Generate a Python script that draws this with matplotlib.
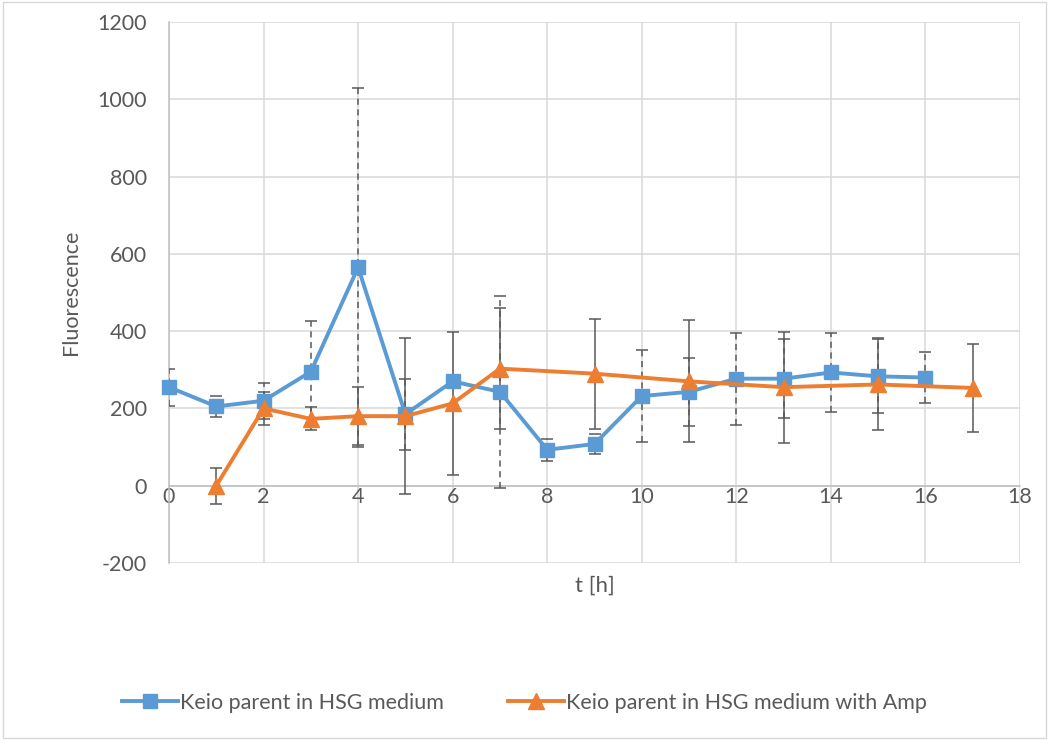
import matplotlib.pyplot as plt
from matplotlib.patches import Rectangle

plt.rcParams['font.family'] = ['Lato', 'DejaVu Sans']
plt.rcParams['axes.unicode_minus'] = False

# Keio parent in HSG medium
t_plain = [0, 1, 2, 3, 4, 5, 6, 7, 8, 9, 10, 11, 12, 13, 14, 15, 16]
f_plain = [255, 205, 220, 295, 565, 185, 270, 243, 93, 108, 232, 243, 277, 277, 293, 283, 280]
err_plain = [48, 28, 47, 132, 465, 92, 10, 248, 29, 26, 119, 88, 119, 103, 101, 96, 67]

# Keio parent in HSG medium with Amp
t_amp = [1, 2, 3, 4, 5, 6, 7, 9, 11, 13, 15, 17]
f_amp = [0, 200, 173, 180, 180, 213, 303, 290, 270, 255, 262, 253]
err_amp = [47, 43, 30, 75, 202, 185, 157, 142, 158, 144, 119, 113]

blue = '#5B9BD5'
orange = '#ED7D31'
grey_txt = '#595959'

fig = plt.figure(figsize=(10.49, 7.40), dpi=100)
ax = fig.add_axes([169 / 1049, 1 - 563 / 740, (1020 - 169) / 1049, (563 - 22) / 740])

# error bars: dashed for the plain medium, solid for the Amp series
eb1 = ax.errorbar(t_plain, f_plain, yerr=err_plain, fmt='none', ecolor=grey_txt,
                  elinewidth=1.1, capsize=4, capthick=1.1, zorder=3)
eb1[2][0].set_linestyle((0, (4, 3)))
eb2 = ax.errorbar(t_amp, f_amp, yerr=err_amp, fmt='none', ecolor=grey_txt,
                  elinewidth=1.1, capsize=4, capthick=1.1, zorder=3)

ax.plot(t_plain, f_plain, color=blue, lw=2.8, marker='s', markersize=10,
        label='Keio parent in HSG medium', zorder=4, clip_on=False)
ax.plot(t_amp, f_amp, color=orange, lw=2.8, marker='^', markersize=11,
        label='Keio parent in HSG medium with Amp', zorder=5, clip_on=False)

ax.set_xlim(0, 18)
ax.set_ylim(-200, 1200)
ax.set_xticks(range(0, 19, 2))
ax.set_yticks(range(-200, 1201, 200))
ax.grid(True, color='#D9D9D9', lw=1.1)
ax.set_axisbelow(True)
ax.tick_params(length=0, labelsize=15.5, colors=grey_txt)
ax.tick_params(axis='y', pad=16)
ax.tick_params(axis='x', pad=1)

for s in ['top', 'right']:
    ax.spines[s].set_visible(False)
ax.spines['bottom'].set_position(('data', 0))
ax.spines['bottom'].set_color('#BFBFBF')
ax.spines['left'].set_color('#BFBFBF')
ax.spines['bottom'].set_linewidth(1.1)
ax.spines['left'].set_linewidth(1.1)

ax.set_ylabel('Fluorescence', fontsize=15.5, color=grey_txt, labelpad=12)
ax.text(9, -259, 't [h]', ha='center', va='center', fontsize=16, color=grey_txt)

fig.legend(loc='center', bbox_to_anchor=(0.5, 1 - 703 / 740), ncol=2, frameon=False,
           fontsize=15.5, labelcolor=grey_txt, handlelength=2.6, columnspacing=3.0,
           handletextpad=0.1)

fig.patches.append(Rectangle((0.003, 0.003), 0.994, 0.994, transform=fig.transFigure,
                             fill=False, edgecolor='#D9D9D9', lw=1))

fig.savefig('out.png', dpi=100)
